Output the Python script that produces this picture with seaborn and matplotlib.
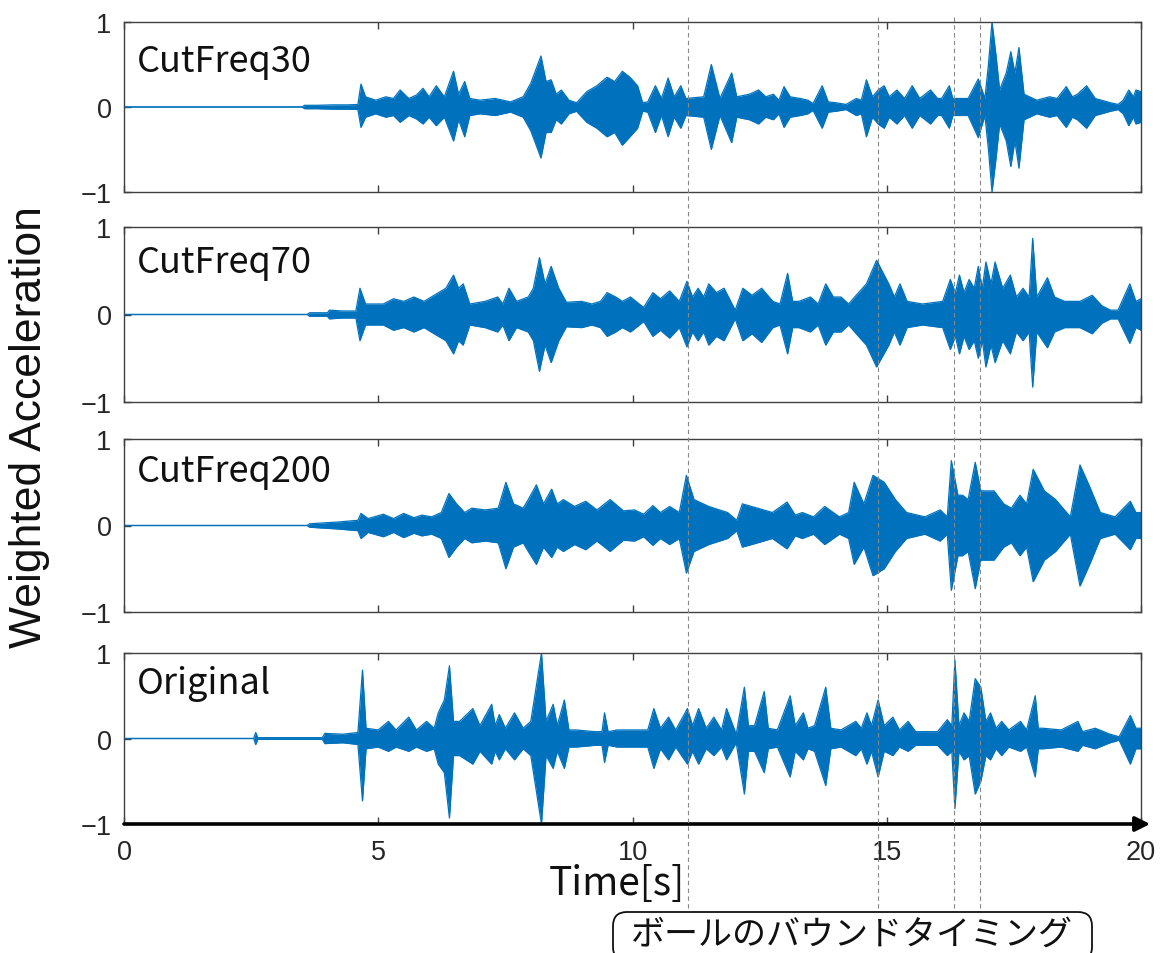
import numpy as np
import pandas as pd
import matplotlib
matplotlib.use("Agg")
import matplotlib.pyplot as plt
import seaborn as sns
from matplotlib.lines import Line2D
from matplotlib.patches import FancyBboxPatch
from matplotlib.transforms import blended_transform_factory

# ---------------- data (envelope key points) ----------------
cf30_t = [0, 3.5, 3.55, 3.8, 4.1, 4.4, 4.6, 4.66, 4.75, 4.95, 5.15, 5.3, 5.43, 5.6, 5.75, 5.88, 6.0, 6.14, 6.3,
          6.48, 6.58, 6.7, 6.8, 7.0, 7.3, 7.6, 7.85, 8.0, 8.2, 8.3, 8.4, 8.5, 8.6, 8.75, 8.9, 9.1, 9.3, 9.5, 9.65,
          9.8, 9.95, 10.1, 10.2, 10.3, 10.45, 10.57, 10.7, 10.82, 10.95, 11.05, 11.4, 11.55, 11.72, 11.95, 12.05,
          12.3, 12.48, 12.62, 12.77, 12.88, 12.98, 13.1, 13.3, 13.45, 13.55, 13.73, 13.85, 14.0, 14.2, 14.4, 14.5,
          14.6, 14.72, 14.83, 14.95, 15.05, 15.2, 15.35, 15.5, 15.65, 15.86, 16.0, 16.08, 16.23, 16.3, 16.6, 16.8,
          16.93, 17.0, 17.07, 17.15, 17.22, 17.35, 17.44, 17.52, 17.6, 17.7, 17.95, 18.2, 18.35, 18.53, 18.65,
          18.75, 18.93, 19.1, 19.4, 19.55, 19.65, 19.76, 19.85, 19.9, 20.0]
cf30_up = [0, 0, 0.02, 0.02, 0.025, 0.025, 0.03, 0.27, 0.12, 0.08, 0.12, 0.1, 0.2, 0.1, 0.14, 0.22, 0.12, 0.25, 0.12,
           0.42, 0.15, 0.3, 0.1, 0.08, 0.1, 0.06, 0.12, 0.28, 0.6, 0.3, 0.32, 0.15, 0.2, 0.08, 0.05, 0.18, 0.25, 0.35, 0.3,
           0.42, 0.35, 0.25, 0.05, 0.06, 0.25, 0.1, 0.34, 0.12, 0.25, 0.1, 0.12, 0.5, 0.1, 0.4, 0.12,
           0.15, 0.2, 0.12, 0.15, 0.08, 0.24, 0.12, 0.1, 0.08, 0.04, 0.25, 0.06, 0.05, 0.03, 0.1, 0.08,
           0.32, 0.12, 0.2, 0.25, 0.12, 0.2, 0.1, 0.25, 0.1, 0.2, 0.1, 0.1, 0.25, 0.1, 0.1, 0.33,
           0.1, 0.5, 1.0, 0.6, 0.2, 0.4, 0.65, 0.4, 0.7, 0.15, 0.08, 0.12, 0.1, 0.24, 0.12,
           0.15, 0.25, 0.1, 0.05, 0.03, 0.08, 0.2, 0.12, 0.2, 0.18]
cf30_dn = [0, 0, 0.02, 0.02, 0.025, 0.025, 0.03, 0.24, 0.12, 0.08, 0.12, 0.1, 0.18, 0.1, 0.14, 0.2, 0.12, 0.22, 0.12,
           0.4, 0.15, 0.35, 0.1, 0.08, 0.1, 0.06, 0.12, 0.28, 0.6, 0.3, 0.3, 0.15, 0.2, 0.08, 0.05, 0.18, 0.25, 0.35, 0.3,
           0.45, 0.35, 0.25, 0.05, 0.06, 0.3, 0.1, 0.35, 0.12, 0.25, 0.1, 0.12, 0.5, 0.1, 0.42, 0.12,
           0.15, 0.2, 0.12, 0.15, 0.08, 0.24, 0.12, 0.1, 0.08, 0.04, 0.25, 0.06, 0.05, 0.03, 0.1, 0.08,
           0.35, 0.12, 0.2, 0.25, 0.12, 0.2, 0.1, 0.25, 0.1, 0.2, 0.1, 0.1, 0.25, 0.1, 0.1, 0.36,
           0.1, 0.5, 1.0, 0.6, 0.2, 0.4, 0.7, 0.4, 0.72, 0.15, 0.08, 0.12, 0.1, 0.24, 0.12,
           0.15, 0.25, 0.1, 0.05, 0.03, 0.08, 0.22, 0.12, 0.2, 0.18]

cf70_t = [0, 3.6, 3.65, 4.0, 4.04, 4.3, 4.56, 4.64, 4.75, 5.1, 5.3, 5.5, 5.7, 5.9, 6.1, 6.33, 6.48, 6.58, 6.67,
          6.8, 7.1, 7.35, 7.45, 7.57, 7.72, 7.95, 8.05, 8.17, 8.28, 8.4, 8.55, 8.7, 9.0, 9.2, 9.37, 9.5, 9.67,
          9.8, 9.96, 10.22, 10.4, 10.55, 10.73, 10.92, 11.07, 11.18, 11.29, 11.4, 11.5, 11.65, 11.8, 12.02, 12.17,
          12.35, 12.54, 12.76, 12.9, 13.05, 13.15, 13.27, 13.5, 13.65, 13.8, 13.95, 14.1, 14.25, 14.37, 14.6,
          14.8, 15.04, 15.15, 15.26, 15.4, 15.7, 16.1, 16.25, 16.35, 16.43, 16.52, 16.62, 16.72, 16.8, 16.88,
          16.95, 17.05, 17.13, 17.28, 17.43, 17.55, 17.68, 17.8, 17.87, 17.95, 18.16, 18.3, 18.5, 18.8, 19.04,
          19.23, 19.4, 19.55, 19.78, 19.9, 20.0]
cf70_up = [0, 0, 0.02, 0.02, 0.05, 0.04, 0.04, 0.3, 0.12, 0.12, 0.18, 0.15, 0.2, 0.15, 0.22, 0.3, 0.45, 0.3, 0.35,
           0.12, 0.15, 0.2, 0.12, 0.3, 0.15, 0.2, 0.3, 0.65, 0.35, 0.55, 0.3, 0.14, 0.15, 0.12, 0.15, 0.25, 0.2,
           0.15, 0.2, 0.08, 0.25, 0.18, 0.27, 0.15, 0.38, 0.2, 0.3, 0.2, 0.35, 0.25, 0.3, 0.05, 0.3,
           0.22, 0.3, 0.15, 0.12, 0.47, 0.15, 0.15, 0.2, 0.12, 0.35, 0.2, 0.2, 0.12, 0.2, 0.35,
           0.62, 0.35, 0.2, 0.35, 0.15, 0.12, 0.15, 0.4, 0.25, 0.45, 0.25, 0.4, 0.3, 0.55, 0.3,
           0.6, 0.35, 0.6, 0.3, 0.45, 0.2, 0.3, 0.2, 0.87, 0.2, 0.42, 0.2, 0.15, 0.15, 0.22,
           0.1, 0.05, 0.05, 0.35, 0.15, 0.18]
cf70_dn = [0, 0, 0.02, 0.02, 0.05, 0.04, 0.04, 0.3, 0.12, 0.12, 0.18, 0.15, 0.2, 0.15, 0.22, 0.3, 0.45, 0.3, 0.35,
           0.12, 0.15, 0.2, 0.12, 0.3, 0.15, 0.2, 0.3, 0.65, 0.35, 0.55, 0.3, 0.14, 0.15, 0.12, 0.15, 0.25, 0.2,
           0.15, 0.2, 0.08, 0.25, 0.18, 0.27, 0.15, 0.37, 0.2, 0.3, 0.2, 0.35, 0.25, 0.3, 0.05, 0.3,
           0.22, 0.32, 0.15, 0.12, 0.45, 0.15, 0.15, 0.2, 0.12, 0.35, 0.2, 0.2, 0.12, 0.2, 0.35,
           0.6, 0.35, 0.2, 0.35, 0.15, 0.12, 0.15, 0.4, 0.25, 0.45, 0.25, 0.4, 0.3, 0.5, 0.3,
           0.6, 0.35, 0.55, 0.3, 0.45, 0.2, 0.3, 0.2, 0.83, 0.2, 0.38, 0.2, 0.15, 0.15, 0.22,
           0.1, 0.05, 0.05, 0.33, 0.15, 0.18]

cf200_t = [0, 3.6, 3.65, 4.2, 4.6, 4.66, 4.8, 5.1, 5.3, 5.5, 5.7, 5.86, 6.05, 6.24, 6.39, 6.54, 6.7, 6.84, 7.1,
           7.36, 7.51, 7.66, 7.85, 7.95, 8.11, 8.25, 8.41, 8.52, 8.64, 8.86, 9.08, 9.3, 9.56, 9.82, 10.04, 10.22,
           10.4, 10.55, 10.73, 10.92, 11.06, 11.21, 11.5, 11.87, 12.05, 12.16, 12.46, 12.75, 13.04, 13.2, 13.34,
           13.56, 13.78, 14.07, 14.25, 14.36, 14.55, 14.73, 14.95, 15.17, 15.39, 15.75, 16.05, 16.19, 16.27,
           16.4, 16.49, 16.6, 16.74, 16.85, 16.93, 17.11, 17.3, 17.45, 17.62, 17.75, 17.88, 18.1, 18.32, 18.61,
           18.8, 18.99, 19.2, 19.49, 19.79, 19.9, 20.0]
cf200_up = [0, 0, 0.02, 0.04, 0.06, 0.14, 0.08, 0.13, 0.08, 0.14, 0.09, 0.12, 0.1, 0.15, 0.37, 0.25, 0.15, 0.2, 0.18,
            0.2, 0.5, 0.25, 0.2, 0.3, 0.47, 0.25, 0.42, 0.25, 0.3, 0.22, 0.28, 0.18, 0.3, 0.17, 0.18, 0.13,
            0.23, 0.15, 0.22, 0.15, 0.58, 0.3, 0.22, 0.15, 0.06, 0.25, 0.2, 0.15, 0.27, 0.12, 0.15,
            0.1, 0.22, 0.1, 0.15, 0.5, 0.25, 0.58, 0.5, 0.3, 0.15, 0.1, 0.18, 0.1, 0.75,
            0.35, 0.35, 0.3, 0.73, 0.4, 0.4, 0.4, 0.25, 0.2, 0.35, 0.25, 0.65, 0.4, 0.3, 0.1,
            0.7, 0.45, 0.15, 0.1, 0.28, 0.15, 0.15]
cf200_dn = [0, 0, 0.02, 0.04, 0.06, 0.15, 0.08, 0.13, 0.08, 0.14, 0.09, 0.12, 0.1, 0.15, 0.37, 0.25, 0.15, 0.2, 0.18,
            0.2, 0.5, 0.25, 0.2, 0.3, 0.45, 0.25, 0.37, 0.25, 0.3, 0.22, 0.28, 0.18, 0.3, 0.17, 0.18, 0.13,
            0.23, 0.15, 0.22, 0.15, 0.55, 0.3, 0.22, 0.15, 0.06, 0.25, 0.2, 0.15, 0.27, 0.12, 0.15,
            0.1, 0.22, 0.1, 0.15, 0.45, 0.25, 0.58, 0.5, 0.3, 0.15, 0.1, 0.18, 0.1, 0.75,
            0.35, 0.35, 0.3, 0.73, 0.4, 0.4, 0.4, 0.25, 0.2, 0.35, 0.25, 0.65, 0.4, 0.3, 0.1,
            0.7, 0.45, 0.15, 0.1, 0.28, 0.15, 0.15]

orig_t = [0, 2.55, 2.59, 2.63, 3.9, 3.95, 4.3, 4.6, 4.69, 4.76, 5.0, 5.2, 5.35, 5.6, 5.75, 5.95, 6.1, 6.18, 6.3,
          6.4, 6.48, 6.6, 6.86, 7.0, 7.23, 7.3, 7.38, 7.5, 7.68, 7.85, 8.0, 8.21, 8.3, 8.44, 8.52, 8.66, 8.75,
          8.89, 9.26, 9.4, 9.45, 9.52, 9.7, 10.0, 10.3, 10.42, 10.55, 10.71, 10.85, 11.08, 11.18, 11.3, 11.45,
          11.6, 11.75, 11.85, 12.04, 12.2, 12.28, 12.4, 12.59, 12.67, 12.85, 13.1, 13.2, 13.36, 13.45, 13.58,
          13.8, 13.9, 14.1, 14.39, 14.5, 14.61, 14.7, 14.83, 14.95, 15.12, 15.25, 15.42, 15.57, 16.0, 16.19,
          16.28, 16.34, 16.42, 16.52, 16.62, 16.74, 16.85, 16.95, 17.04, 17.15, 17.26, 17.4, 17.63, 17.75,
          17.92, 17.98, 18.07, 18.43, 18.76, 18.85, 19.1, 19.39, 19.57, 19.79, 19.9, 20.0]
orig_up = [0, 0, 0.07, 0.01, 0.01, 0.06, 0.05, 0.07, 0.8, 0.12, 0.1, 0.2, 0.1, 0.25, 0.1, 0.2, 0.12, 0.3, 0.45,
           0.85, 0.2, 0.2, 0.35, 0.15, 0.4, 0.15, 0.28, 0.12, 0.3, 0.12, 0.2, 1.0, 0.2, 0.4, 0.15, 0.45, 0.1,
           0.1, 0.08, 0.08, 0.3, 0.08, 0.1, 0.1, 0.1, 0.35, 0.12, 0.25, 0.1, 0.35, 0.15, 0.35, 0.12,
           0.25, 0.1, 0.35, 0.05, 0.6, 0.15, 0.15, 0.55, 0.12, 0.1, 0.5, 0.15, 0.3, 0.12, 0.15,
           0.6, 0.12, 0.1, 0.2, 0.12, 0.3, 0.15, 0.45, 0.15, 0.25, 0.1, 0.2, 0.08, 0.08, 0.22,
           0.15, 0.92, 0.15, 0.3, 0.2, 0.7, 0.6, 0.2, 0.3, 0.12, 0.2, 0.1, 0.2, 0.1,
           0.5, 0.12, 0.12, 0.1, 0.2, 0.08, 0.12, 0.05, 0.02, 0.27, 0.12, 0.12]
orig_dn = [0, 0, 0.07, 0.01, 0.01, 0.06, 0.05, 0.07, 0.73, 0.12, 0.1, 0.15, 0.1, 0.15, 0.1, 0.15, 0.12, 0.3, 0.4,
           0.93, 0.2, 0.2, 0.3, 0.15, 0.3, 0.15, 0.25, 0.12, 0.25, 0.12, 0.2, 1.0, 0.2, 0.35, 0.15, 0.35, 0.1,
           0.1, 0.08, 0.08, 0.28, 0.08, 0.1, 0.1, 0.1, 0.35, 0.12, 0.25, 0.1, 0.3, 0.15, 0.3, 0.12,
           0.2, 0.1, 0.25, 0.05, 0.65, 0.15, 0.15, 0.4, 0.12, 0.1, 0.45, 0.15, 0.25, 0.12, 0.15,
           0.55, 0.12, 0.1, 0.2, 0.12, 0.3, 0.15, 0.45, 0.15, 0.2, 0.1, 0.15, 0.08, 0.08, 0.2,
           0.15, 0.82, 0.15, 0.25, 0.2, 0.65, 0.5, 0.2, 0.25, 0.12, 0.2, 0.1, 0.15, 0.1,
           0.45, 0.12, 0.12, 0.1, 0.15, 0.08, 0.12, 0.05, 0.02, 0.3, 0.12, 0.12]

panel_names = ["CutFreq30", "CutFreq70", "CutFreq200", "Original"]
bounce_times = [11.1, 14.83, 16.33, 16.83]
x_ticks = [0, 5, 10, 15, 20]
y_ticks = [-1, 0, 1]
y_ticklabels = ["\u22121", "0", "1"]
ylabel_text = "Weighted Acceleration"
xlabel_text = "Time[s]"
note_text = "ボールのバウンドタイミング"

series = [(cf30_t, cf30_up, cf30_dn), (cf70_t, cf70_up, cf70_dn),
          (cf200_t, cf200_up, cf200_dn), (orig_t, orig_up, orig_dn)]

# ---------------- style ----------------
sns.set_theme(style="white")
plt.rcParams["font.family"] = ["Liberation Sans", "DejaVu Sans"]
JP = ["Noto Sans CJK JP", "DejaVu Sans"]
BLUE = "#0072BD"
FRAME = "#404040"

W, H = 1166, 954
fig = plt.figure(figsize=(W / 100, H / 100), dpi=100)

# panel frames in pixels: (top, bottom)
frames = [(23, 193), (228, 403), (440, 613), (654, 825)]
label_y = [0.77, 0.80, 0.815, 0.825]
left_px, right_px = 124, 1141
axes = []
for i, ((top, bot), name, (t, up, dn)) in enumerate(zip(frames, panel_names, series)):
    ax = fig.add_axes([left_px / W, 1 - bot / H, (right_px - left_px) / W, (bot - top) / H])
    axes.append(ax)
    df = pd.DataFrame({"t": t, "up": up, "dn": [-v for v in dn]})
    ax.fill_between(df["t"], df["dn"], df["up"], color=BLUE, linewidth=0)
    sns.lineplot(data=df, x="t", y="up", ax=ax, color=BLUE, lw=0.9, estimator=None, sort=False)
    sns.lineplot(data=df, x="t", y="dn", ax=ax, color=BLUE, lw=0.9, estimator=None, sort=False)
    ax.set_xlim(0, 20)
    ax.set_ylim(-1, 1)
    ax.set_xticks(x_ticks)
    ax.set_yticks(y_ticks)
    ax.set_yticklabels(y_ticklabels)
    ax.set_xlabel("")
    ax.set_ylabel("")
    ax.tick_params(axis="both", direction="in", length=5, width=1, color=FRAME,
                   top=True, right=True, bottom=True, left=True,
                   labelsize=19.5, labelcolor="#262626")
    ax.tick_params(axis="y", pad=9)
    ax.tick_params(axis="x", pad=11)
    for s in ax.spines.values():
        s.set_color(FRAME)
        s.set_linewidth(1.0)
    ax.text(0.013, label_y[i], name, transform=ax.transAxes, fontsize=26,
            family=JP, color="#111111", ha="left", va="center")
    if i < 3:
        ax.tick_params(axis="x", labelbottom=False)

ax4 = axes[-1]
ax4.spines["bottom"].set_visible(False)
ax4.annotate("", xy=(20.18, -1), xytext=(0, -1), xycoords="data",
             arrowprops=dict(arrowstyle="-|>", color="black", lw=2.6, mutation_scale=22,
                             shrinkA=0, shrinkB=0),
             annotation_clip=False)

# bounce-timing dashed lines spanning all panels
trans = blended_transform_factory(ax4.transData, fig.transFigure)
for bt in bounce_times:
    fig.add_artist(Line2D([bt, bt], [1 - 18 / H, 1 - 912 / H], transform=trans,
                          ls=(0, (4, 3)), lw=0.8, color="#888888"))

fig.text(30 / W, 1 - 427 / H, ylabel_text, rotation=90, fontsize=32,
         ha="center", va="center", color="#111111")
fig.text(617 / W, 1 - 884 / H, xlabel_text, fontsize=28, family=JP,
         ha="center", va="center", color="#111111")

# rounded note box (runs past the bottom edge as in the reference)
box = FancyBboxPatch((613 / W, -8 / H), (1092 - 613) / W, (954 - 913 + 8) / H,
                     boxstyle="round,pad=0,rounding_size=0.012", transform=fig.transFigure,
                     fc="white", ec="#111111", lw=1.3, mutation_aspect=W / H)
fig.add_artist(box)
fig.text(852 / W, 1 - 935 / H, note_text, fontsize=24.5, family=JP,
         ha="center", va="center", color="#111111")

fig.savefig("out.png", dpi=100)
